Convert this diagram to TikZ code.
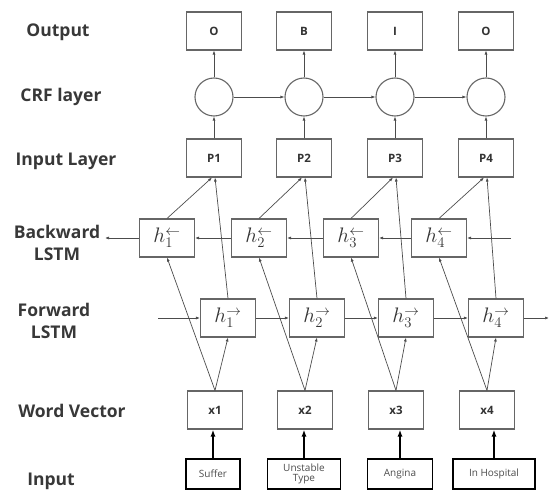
\RequirePackage{fix-cm}
\documentclass[tikz,border=0pt]{standalone}
\usepackage{fontspec}
\setmainfont{Open Sans}
\usetikzlibrary{arrows.meta, positioning}

\begin{document}
\begin{tikzpicture}[x=1pt, y=-1pt,
			every node/.style={font=\small},
			layer/.style={font=\fontsize{17.5}{22}\selectfont\bfseries, text=black!78, align=center},
			box/.style={draw=black!60, line width=1.1pt, minimum width=55pt,
				minimum height=38pt, inner sep=0pt, font=\fontsize{11.5}{13}\selectfont\bfseries, text=black!80},
			hbox/.style={box, font=\fontsize{21}{24}\selectfont},
			crf/.style={circle, draw=black!60, line width=1.1pt, minimum size=38pt, inner sep=0pt},
			word/.style={draw=black, line width=1.2pt, minimum height=30pt, inner sep=1pt,
				align=center, font=\fontsize{10}{10.5}\selectfont, text=black!70},
			arr/.style={-{Latex[length=4pt, width=3pt]}, draw=black!70, line width=0.7pt},
			feed/.style={-{Latex[length=7pt, width=5pt]}, line width=1.3pt},
			]
			\useasboundingbox (0,0) rectangle (550,495);

			% Row names
			\node[layer] (lout) at (58,32) {Output};
			\node[layer] (lcrf) at (61,97) {CRF layer};
			\node[layer] (lin) at (66,161) {Input Layer};
			\node[layer] (lbw) at (57,243) {Backward\\LSTM};
			\node[layer] (lfw) at (54,321) {Forward\\LSTM};
			\node[layer] (lvec) at (72,411) {Word Vector};
			\node[layer] (lword) at (51,481) {Input};

			% Output tags
			\node[box] (o1) at (214,31) {O};
			\node[box] (o2) at (304,31) {B};
			\node[box] (o3) at (395,31) {I};
			\node[box] (o4) at (486,31) {O};

			% CRF layer
			\node[crf] (c1) at (214,97) {};
			\node[crf] (c2) at (304,97) {};
			\node[crf] (c3) at (395,97) {};
			\node[crf] (c4) at (486,97) {};

			% Input layer
			\node[box] (p1) at (214,158) {P1};
			\node[box] (p2) at (304,158) {P2};
			\node[box] (p3) at (395,158) {P3};
			\node[box] (p4) at (486,158) {P4};

			% Backward LSTM
			\node[hbox] (b1) at (167,238) {$h_1^{\leftarrow}$};
			\node[hbox] (b2) at (259,238) {$h_2^{\leftarrow}$};
			\node[hbox] (b3) at (351,238) {$h_3^{\leftarrow}$};
			\node[hbox] (b4) at (439,238) {$h_4^{\leftarrow}$};
			\coordinate (bin) at (511,238);
			\coordinate (bout) at (105,238);

			% Forward LSTM
			\node[hbox] (f1) at (228,318) {$h_1^{\rightarrow}$};
			\node[hbox] (f2) at (317,318) {$h_2^{\rightarrow}$};
			\node[hbox] (f3) at (406,318) {$h_3^{\rightarrow}$};
			\node[hbox] (f4) at (496,318) {$h_4^{\rightarrow}$};
			\coordinate (fin) at (158,318);
			\coordinate (fout) at (549,318);

			% Word vectors
			\node[box] (x1) at (215,410) {x1};
			\node[box] (x2) at (305,410) {x2};
			\node[box] (x3) at (396,410) {x3};
			\node[box] (x4) at (487,410) {x4};

			% Input words
			\node[word, minimum width=54pt] (w1) at (213,474) {Suffer};
			\node[word, minimum width=73pt] (w2) at (304,474) {Unstable\\Type};
			\node[word, minimum width=65pt] (w3) at (400,474) {Angina};
			\node[word, minimum width=82pt] (w4) at (494,474) {In Hospital};

			% Arrows
			\draw[arr] (c1) -- (o1);
			\draw[arr] (c2) -- (o2);
			\draw[arr] (c3) -- (o3);
			\draw[arr] (c4) -- (o4);
			\draw[arr] (c1) -- (c2);
			\draw[arr] (c2) -- (c3);
			\draw[arr] (c3) -- (c4);
			\draw[arr] (p1) -- (c1);
			\draw[arr] (p2) -- (c2);
			\draw[arr] (p3) -- (c3);
			\draw[arr] (p4) -- (c4);

			\draw[arr] (bin) -- (b4);
			\draw[arr] (b4) -- (b3);
			\draw[arr] (b3) -- (b2);
			\draw[arr] (b2) -- (b1);
			\draw[arr] (b1) -- (bout);
			\draw[arr] (fin) -- (f1);
			\draw[arr] (f1) -- (f2);
			\draw[arr] (f2) -- (f3);
			\draw[arr] (f3) -- (f4);
			\draw[arr] (f4) -- (fout);

			\draw[arr] (b1.north) -- ([xshift=-2pt]p1.south);
			\draw[arr] (f1.north) -- ([xshift=1pt]p1.south);
			\draw[arr] (b2.north) -- ([xshift=-2pt]p2.south);
			\draw[arr] (f2.north) -- ([xshift=1pt]p2.south);
			\draw[arr] (b3.north) -- ([xshift=-2pt]p3.south);
			\draw[arr] (f3.north) -- ([xshift=1pt]p3.south);
			\draw[arr] (b4.north) -- ([xshift=-2pt]p4.south);
			\draw[arr] (f4.north) -- ([xshift=1pt]p4.south);

			\draw[arr] (x1.north) -- (f1.south);
			\draw[arr] (x1.north) -- (b1.south);
			\draw[arr] (x2.north) -- (f2.south);
			\draw[arr] (x2.north) -- (b2.south);
			\draw[arr] (x3.north) -- (f3.south);
			\draw[arr] (x3.north) -- (b3.south);
			\draw[arr] (x4.north) -- (f4.south);
			\draw[arr] (x4.north) -- (b4.south);

			\draw[feed] (w1.north) -- (w1.north |- x1.south);
			\draw[feed] (w2.north) -- (w2.north |- x2.south);
			\draw[feed] (w3.north) -- (w3.north |- x3.south);
			\draw[feed] (w4.north) -- (w4.north |- x4.south);
		\end{tikzpicture}
\end{document}
